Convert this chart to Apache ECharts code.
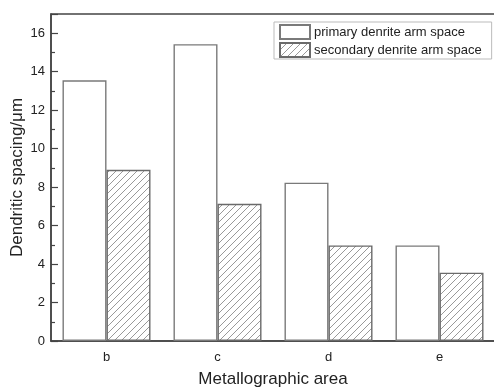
<!DOCTYPE html>
<html>
<head>
<meta charset="utf-8">
<script src="https://cdn.jsdelivr.net/npm/echarts@6/dist/echarts.min.js"></script>
<style>
html,body{margin:0;padding:0;background:#fff;}
#chart{width:494px;height:387px;}
</style>
</head>
<body>
<div id="chart"></div>
<script>
const categories = ['b', 'c', 'd', 'e'];
const primaryValues = [13.55, 15.43, 8.23, 4.97];
const secondaryValues = [8.9, 7.13, 4.97, 3.55];
const seriesNames = ['primary denrite arm space', 'secondary denrite arm space'];
const yTicks = [0, 2, 4, 6, 8, 10, 12, 14, 16];

function hatch() {
  const s = 7;
  const c = document.createElement('canvas');
  c.width = s; c.height = s;
  const g = c.getContext('2d');
  g.fillStyle = '#fff';
  g.fillRect(0, 0, s, s);
  g.strokeStyle = '#999';
  g.lineWidth = 1;
  g.beginPath();
  g.moveTo(-1, s + 1); g.lineTo(s + 1, -1);
  g.moveTo(-1, 1); g.lineTo(1, -1);
  g.moveTo(s - 1, s + 1); g.lineTo(s + 1, s - 1);
  g.stroke();
  return c;
}

const FONT = 'Liberation Sans, Arial, sans-serif';
const chart = echarts.init(document.getElementById('chart'), null, {renderer: 'canvas'});
chart.setOption({
  animation: false,
  backgroundColor: '#fff',
  textStyle: {fontFamily: FONT},
  grid: {left: 51, top: 14, right: -1, bottom: 46, show: true, borderColor: '#444', borderWidth: 1.5,
    containLabel: false, outerBoundsMode: 'none'},
  legend: {
    orient: 'vertical',
    left: 274, top: 22,
    padding: [2, 10, 1, 5],
    itemGap: 2,
    itemWidth: 30, itemHeight: 14,
    icon: 'rect',
    borderColor: '#bbb', borderWidth: 1,
    textStyle: {fontSize: 13, color: '#222', fontFamily: FONT, padding: [0, 0, 0, -1]},
    data: seriesNames
  },
  xAxis: {
    type: 'category',
    data: categories,
    axisLine: {lineStyle: {color: '#444', width: 1.5}},
    axisTick: {show: false},
    axisLabel: {fontSize: 13, color: '#222', margin: 10, fontFamily: FONT},
    name: 'Metallographic area',
    nameLocation: 'middle',
    nameGap: 30,
    nameMoveOverlap: false,
    nameTextStyle: {fontSize: 17, color: '#222', fontFamily: FONT}
  },
  yAxis: {
    type: 'value',
    min: 0, max: 17, interval: 2,
    axisLine: {show: true, lineStyle: {color: '#444', width: 1.5}},
    axisTick: {show: true, inside: true, length: 7, lineStyle: {color: '#444', width: 1.2}},
    minorTick: {show: true, splitNumber: 2, length: 4, lineStyle: {color: '#444', width: 1.2}},
    splitLine: {show: false},
    axisLabel: {fontSize: 13, color: '#222', margin: 6, showMaxLabel: false, fontFamily: FONT,
      formatter: v => yTicks.indexOf(v) >= 0 ? String(v) : ''},
    name: 'Dendritic spacing/μm',
    nameLocation: 'middle',
    nameGap: 25,
    nameMoveOverlap: false,
    nameTextStyle: {fontSize: 17, color: '#222', fontFamily: FONT}
  },
  series: [
    {
      name: seriesNames[0], type: 'bar', data: primaryValues,
      barWidth: 44, barGap: '0%',
      itemStyle: {color: '#fff', borderColor: '#7a7a7a', borderWidth: 1.4}
    },
    {
      name: seriesNames[1], type: 'bar', data: secondaryValues,
      barWidth: 44, barGap: '0%',
      itemStyle: {color: {image: hatch(), repeat: 'repeat'}, borderColor: '#6a6a6a', borderWidth: 1.4}
    }
  ]
});
</script>
</body>
</html>
